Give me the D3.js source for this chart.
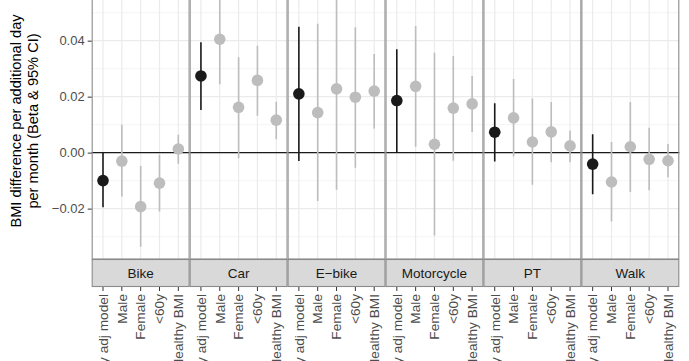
<!DOCTYPE html>
<html>
<head>
<meta charset="utf-8">
<script src="https://cdn.jsdelivr.net/npm/d3@7"></script>
<style>
  body { margin: 0; background: #fff; }
  svg { display: block; font-family: "Liberation Sans", Arial, sans-serif; }
</style>
</head>
<body>
<div id="chart"></div>
<script>
const modes = ["Bike", "Car", "E\u2212bike", "Motorcycle", "PT", "Walk"];
const groups = ["Fully adj model", "Male", "Female", "<60y", "Healthy BMI"];

// estimate, lower, upper per mode (order of groups)
const est = [
    [-0.0100, -0.0030, -0.0193, -0.0109, 0.0013],
    [0.0274, 0.0405, 0.0162, 0.0258, 0.0116],
    [0.0210, 0.0143, 0.0228, 0.0198, 0.0220],
    [0.0186, 0.0237, 0.0030, 0.0159, 0.0174],
    [0.0073, 0.0124, 0.0038, 0.0074, 0.0024],
    [-0.0041, -0.0105, 0.0021, -0.0024, -0.0029]
];
const lower = [
    [-0.0195, -0.0157, -0.0336, -0.0210, -0.0040],
    [0.0152, 0.0244, -0.0020, 0.0132, 0.0048],
    [-0.0030, -0.0173, -0.0133, -0.0054, 0.0086],
    [0.0000, 0.0021, -0.0296, -0.0029, 0.0074],
    [-0.0032, -0.0014, -0.0115, -0.0034, -0.0034],
    [-0.0149, -0.0246, -0.0141, -0.0134, -0.0088]
];
const upper = [
    [0.0000, 0.0100, -0.0048, -0.0008, 0.0064],
    [0.0394, 0.0620, 0.0341, 0.0382, 0.0182],
    [0.0450, 0.0460, 0.0600, 0.0448, 0.0352],
    [0.0369, 0.0452, 0.0357, 0.0345, 0.0274],
    [0.0176, 0.0263, 0.0193, 0.0181, 0.0079],
    [0.0066, 0.0038, 0.0181, 0.0089, 0.0031]
];
const majorTicks = [-0.02, 0, 0.02, 0.04];
const minorTicks = [-0.03, -0.01, 0.01, 0.03, 0.05];

const width = 689, height = 361;
const panelLeft = 91.7, panelRight = 679.3, panelTop = -17, panelBottom = 259, stripBottom = 287;

const svg = d3.select("#chart").append("svg")
    .attr("width", width)
    .attr("height", height);

const fx = d3.scaleBand().domain(modes).range([panelLeft, panelRight]).padding(0);
const x = d3.scalePoint().domain(groups).range([0, fx.bandwidth()]).padding(0.6);
const y = d3.scaleLinear().domain([-0.038, 0.0606]).range([panelBottom, panelTop]);

svg.append("defs").append("clipPath")
    .attr("id", "clip")
    .append("rect")
    .attr("x", 0).attr("y", panelTop)
    .attr("width", fx.bandwidth()).attr("height", panelBottom - panelTop);

const panel = svg.selectAll("g.panel")
    .data(modes)
    .enter().append("g")
    .attr("class", "panel")
    .attr("transform", d => `translate(${fx(d)},0)`);

panel.append("rect")
    .attr("x", 0).attr("y", panelTop)
    .attr("width", fx.bandwidth()).attr("height", panelBottom - panelTop)
    .attr("fill", "#fff");

// grid
panel.each(function() {
    const g = d3.select(this);
    g.selectAll("line.minor").data(minorTicks).enter().append("line")
        .attr("x1", 0).attr("x2", fx.bandwidth())
        .attr("y1", d => y(d)).attr("y2", d => y(d))
        .attr("stroke", "#f2f2f2").attr("stroke-width", 0.8);
    g.selectAll("line.major").data(majorTicks).enter().append("line")
        .attr("x1", 0).attr("x2", fx.bandwidth())
        .attr("y1", d => y(d)).attr("y2", d => y(d))
        .attr("stroke", "#ebebeb").attr("stroke-width", 1.2);
    g.selectAll("line.vgrid").data(groups).enter().append("line")
        .attr("x1", d => x(d)).attr("x2", d => x(d))
        .attr("y1", panelTop).attr("y2", panelBottom)
        .attr("stroke", "#ebebeb").attr("stroke-width", 1.2);
});

// zero line
panel.append("line")
    .attr("x1", 0).attr("x2", fx.bandwidth())
    .attr("y1", y(0)).attr("y2", y(0))
    .attr("stroke", "#1a1a1a").attr("stroke-width", 1.3);

// error bars and points
panel.each(function(mode, i) {
    const g = d3.select(this).append("g").attr("clip-path", "url(#clip)");
    const rows = groups.map((grp, j) => ({ grp, j, e: est[i][j], lo: lower[i][j], hi: upper[i][j] }));
    const col = d => d.j === 0 ? "#1a1a1a" : "#bdbdbd";
    g.selectAll("line.ci").data(rows).enter().append("line")
        .attr("x1", d => x(d.grp)).attr("x2", d => x(d.grp))
        .attr("y1", d => y(d.lo)).attr("y2", d => y(d.hi))
        .attr("stroke", col).attr("stroke-width", 1.6);
    g.selectAll("circle").data(rows).enter().append("circle")
        .attr("cx", d => x(d.grp)).attr("cy", d => y(d.e))
        .attr("r", 5.8)
        .attr("fill", col);
});

// panel border
panel.append("rect")
    .attr("x", 0.5).attr("y", panelTop)
    .attr("width", fx.bandwidth() - 1).attr("height", panelBottom - panelTop)
    .attr("fill", "none").attr("stroke", "#8a8a8a").attr("stroke-width", 1.1);

// strips
panel.append("rect")
    .attr("x", 0.5).attr("y", panelBottom + 0.5)
    .attr("width", fx.bandwidth() - 1).attr("height", stripBottom - panelBottom - 1)
    .attr("fill", "#d9d9d9").attr("stroke", "#8a8a8a").attr("stroke-width", 1.1);
panel.append("text")
    .attr("x", fx.bandwidth() / 2).attr("y", (panelBottom + stripBottom) / 2)
    .attr("dy", "0.35em")
    .attr("text-anchor", "middle")
    .attr("font-size", 13.5)
    .attr("fill", "#1a1a1a")
    .text(d => d);

// x axis ticks and labels
panel.each(function() {
    const g = d3.select(this);
    g.selectAll("line.tick").data(groups).enter().append("line")
        .attr("x1", d => x(d)).attr("x2", d => x(d))
        .attr("y1", stripBottom).attr("y2", stripBottom + 4)
        .attr("stroke", "#333").attr("stroke-width", 1);
    g.selectAll("text.xl").data(groups).enter().append("text")
        .attr("transform", d => `translate(${x(d)},${stripBottom + 7}) rotate(-90)`)
        .attr("text-anchor", "end")
        .attr("dy", "0.35em")
        .attr("font-size", 13.7)
        .attr("fill", "#4d4d4d")
        .text(d => d);
});

// y axis
const yAxis = svg.append("g")
    .attr("transform", `translate(${panelLeft},0)`)
    .call(d3.axisLeft(y).tickValues(majorTicks).tickFormat(d3.format(".2f")).tickSize(4).tickPadding(3));
yAxis.select(".domain").remove();
yAxis.selectAll(".tick line").attr("stroke", "#333");
yAxis.selectAll(".tick text")
    .attr("font-size", 13)
    .attr("fill", "#4d4d4d")
    .attr("font-family", "Liberation Sans, Arial, sans-serif");

// y title
const titleY = (panelTop + panelBottom) / 2;
const title = svg.append("text")
    .attr("transform", `translate(21,${titleY}) rotate(-90)`)
    .attr("text-anchor", "middle")
    .attr("font-size", 14.6)
    .attr("fill", "#000");
title.append("tspan").attr("x", 0).attr("dy", 0).text("BMI difference per additional day");
title.append("tspan").attr("x", 0).attr("dy", 16.5).text("per month (Beta & 95% CI)");
</script>
</body>
</html>
